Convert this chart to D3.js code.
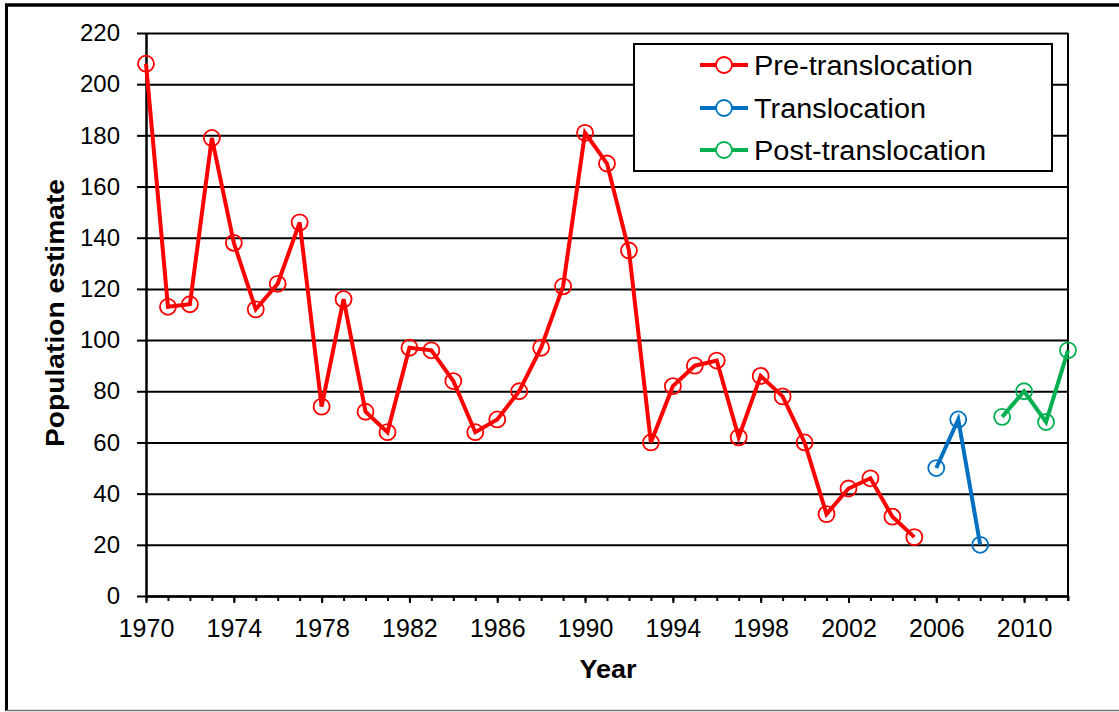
<!DOCTYPE html>
<html>
<head>
<meta charset="utf-8">
<script src="https://cdn.jsdelivr.net/npm/d3@7"></script>
<style>
  html, body { margin: 0; padding: 0; background: #fff; }
  svg { display: block; font-family: "Liberation Sans", Arial, sans-serif; }
</style>
</head>
<body>
<svg id="chart" width="1119" height="712"></svg>
<script>
// ---- data ----
const preYears = [1970,1971,1972,1973,1974,1975,1976,1977,1978,1979,1980,1981,1982,1983,1984,1985,1986,1987,1988,1989,1990,1991,1992,1993,1994,1995,1996,1997,1998,1999,2000,2001,2002,2003,2004,2005];
const preValues = [208,113,114,179,138,112,122,146,74,116,72,64,97,96,84,64,69,80,97,121,181,169,135,60,82,90,92,62,86,78,60,32,42,46,31,23];
const transYears = [2006,2007,2008];
const transValues = [50,69,20];
const postYears = [2009,2010,2011,2012];
const postValues = [70,80,68,96];
const seriesNames = ["Pre-translocation","Translocation","Post-translocation"];
const yTicks = [0,20,40,60,80,100,120,140,160,180,200,220];
const xMajorTicks = [1970,1974,1978,1982,1986,1990,1994,1998,2002,2006,2010];
const xMinorTicks = d3.range(1970, 2013);

const colors = ["#FF0000", "#0070C0", "#00B050"];

const svg = d3.select("#chart");
const L = 146, R = 1068, T = 33, B = 596;

const x = d3.scaleLinear().domain([1970, 2012]).range([L, R]);
const y = d3.scaleLinear().domain([0, 220]).range([B, T]);

// outer frame
svg.append("line").attr("x1", 5).attr("x2", 1119).attr("y1", 5).attr("y2", 5)
  .attr("stroke", "#000").attr("stroke-width", 3.5);
svg.append("line").attr("x1", 6.5).attr("x2", 6.5).attr("y1", 4).attr("y2", 711)
  .attr("stroke", "#000").attr("stroke-width", 3);
svg.append("line").attr("x1", 6).attr("x2", 1119).attr("y1", 710.5).attr("y2", 710.5)
  .attr("stroke", "#777").attr("stroke-width", 1.5);

// gridlines
const grid = svg.append("g").attr("transform", `translate(${L},0)`)
  .call(d3.axisLeft(y).tickValues(yTicks).tickSize(-(R - L)).tickFormat(""));
grid.select(".domain").remove();
grid.selectAll("line").attr("stroke", "#000").attr("stroke-width", 2);

// right border of plot
svg.append("line").attr("x1", R).attr("x2", R).attr("y1", T).attr("y2", B + 5)
  .attr("stroke", "#000").attr("stroke-width", 2);

// y axis
const yAxis = svg.append("g").attr("transform", `translate(${L},0)`)
  .call(d3.axisLeft(y).tickValues(yTicks).tickSize(9).tickPadding(17).tickSizeOuter(0));
yAxis.select(".domain").attr("stroke", "#000").attr("stroke-width", 2.5);
yAxis.selectAll(".tick line").attr("stroke", "#000").attr("stroke-width", 2);
yAxis.selectAll("text").attr("font-size", 24).attr("fill", "#000")
  .attr("font-family", "Liberation Sans, Arial, sans-serif");

// x axis minor ticks
const xMinor = svg.append("g").attr("transform", `translate(0,${B})`)
  .call(d3.axisBottom(x).tickValues(xMinorTicks).tickSize(5).tickFormat("").tickSizeOuter(0));
xMinor.select(".domain").remove();
xMinor.selectAll(".tick line").attr("stroke", "#000").attr("stroke-width", 2);

// x axis major
const xAxis = svg.append("g").attr("transform", `translate(0,${B})`)
  .call(d3.axisBottom(x).tickValues(xMajorTicks).tickSize(7).tickPadding(16)
        .tickFormat(d3.format("d")).tickSizeOuter(0));
xAxis.select(".domain").attr("stroke", "#000").attr("stroke-width", 2.5);
xAxis.selectAll(".tick line").attr("stroke", "#000").attr("stroke-width", 2);
xAxis.selectAll("text").attr("font-size", 25).attr("fill", "#000")
  .attr("font-family", "Liberation Sans, Arial, sans-serif");

// axis titles
svg.append("text").attr("x", 608).attr("y", 678).attr("text-anchor", "middle")
  .attr("font-size", 26).attr("font-weight", "bold")
  .attr("textLength", 57).attr("lengthAdjust", "spacingAndGlyphs").text("Year");
svg.append("text").attr("transform", "translate(64,313) rotate(-90)")
  .attr("text-anchor", "middle").attr("font-size", 26).attr("font-weight", "bold")
  .attr("textLength", 268).attr("lengthAdjust", "spacingAndGlyphs")
  .text("Population estimate");

// series
const series = [
  { years: preYears, values: preValues },
  { years: transYears, values: transValues },
  { years: postYears, values: postValues }
];
const line = d3.line().x(d => x(d[0])).y(d => y(d[1]));
series.forEach((s, i) => {
  const pts = s.years.map((yr, j) => [yr, s.values[j]]);
  svg.append("path").datum(pts).attr("d", line).attr("fill", "none")
    .attr("stroke", colors[i]).attr("stroke-width", 4).attr("stroke-linejoin", "miter");
  svg.append("g").selectAll("circle").data(pts).join("circle")
    .attr("cx", d => x(d[0])).attr("cy", d => y(d[1])).attr("r", 8)
    .attr("fill", "none").attr("stroke", colors[i]).attr("stroke-width", 1.8);
});

// legend
const lg = svg.append("g");
lg.append("rect").attr("x", 634).attr("y", 44).attr("width", 418).attr("height", 127)
  .attr("fill", "#fff").attr("stroke", "#000").attr("stroke-width", 2);
const rowY = [65, 108, 150];
const legendTextLen = [219, 172, 232];
seriesNames.forEach((name, i) => {
  lg.append("line").attr("x1", 700).attr("x2", 748).attr("y1", rowY[i]).attr("y2", rowY[i])
    .attr("stroke", colors[i]).attr("stroke-width", 4);
  lg.append("circle").attr("cx", 724).attr("cy", rowY[i]).attr("r", 8)
    .attr("fill", "#fff").attr("stroke", colors[i]).attr("stroke-width", 1.8);
  lg.append("text").attr("x", 754).attr("y", rowY[i]).attr("dy", "0.36em")
    .attr("font-size", 27).attr("fill", "#000")
    .attr("textLength", legendTextLen[i]).attr("lengthAdjust", "spacingAndGlyphs")
    .text(name);
});
</script>
</body>
</html>
